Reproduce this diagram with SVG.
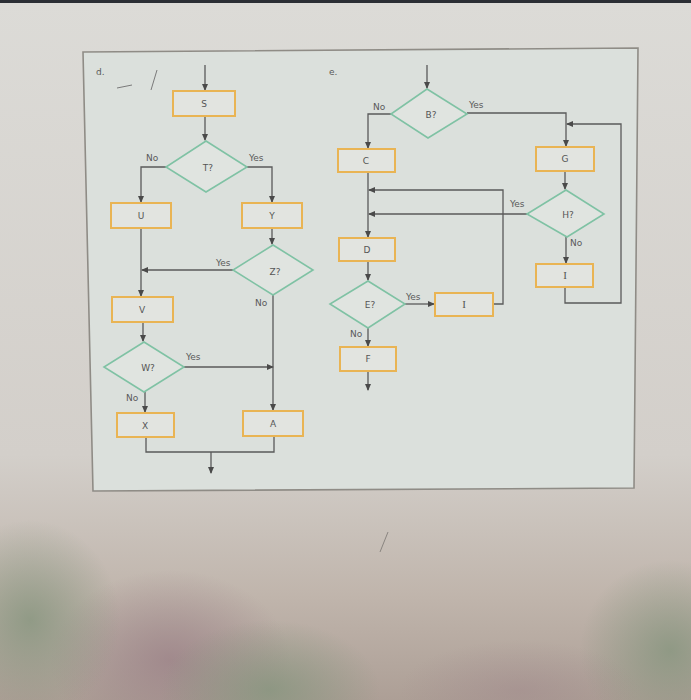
<svg xmlns="http://www.w3.org/2000/svg" width="691" height="700" viewBox="0 0 691 700">
<defs>
<linearGradient id="bg" x1="0" y1="0" x2="0" y2="1">
<stop offset="0" stop-color="#dcdbd7"/>
<stop offset="0.65" stop-color="#d3cfca"/>
<stop offset="0.85" stop-color="#c0b5ac"/>
<stop offset="1" stop-color="#ad9f96"/>
</linearGradient>
<radialGradient id="pink" cx="0.5" cy="0.5" r="0.5">
<stop offset="0" stop-color="#9c8288" stop-opacity="0.8"/>
<stop offset="1" stop-color="#9c8288" stop-opacity="0"/>
</radialGradient>
<radialGradient id="green" cx="0.5" cy="0.5" r="0.5">
<stop offset="0" stop-color="#86957e" stop-opacity="0.8"/>
<stop offset="1" stop-color="#86957e" stop-opacity="0"/>
</radialGradient>
<marker id="ah" markerWidth="7" markerHeight="6" refX="6" refY="3" orient="auto" markerUnits="userSpaceOnUse">
<path d="M0,0 L7,3 L0,6 z" fill="#4a4a4a"/>
</marker>
<style>
.box{fill:#e2e4e0;stroke:#e9b454;stroke-width:2}
.dia{fill:#e0e4e0;stroke:#7fc2a4;stroke-width:1.6}
.ln{fill:none;stroke:#5a5a5a;stroke-width:1.3}
.ar{marker-end:url(#ah)}
.t{font-family:"DejaVu Sans","Liberation Sans",sans-serif;font-size:9px;fill:#555;text-anchor:middle}
.ti{font-family:"Liberation Serif",serif;font-size:11px;fill:#555;text-anchor:middle}
.lbl{font-family:"DejaVu Sans","Liberation Sans",sans-serif;font-size:9px;fill:#5a5a5a}
</style>
</defs>
<rect width="691" height="700" fill="url(#bg)"/>
<ellipse cx="170" cy="660" rx="120" ry="90" fill="url(#pink)"/>
<ellipse cx="270" cy="690" rx="110" ry="70" fill="url(#green)"/>
<ellipse cx="30" cy="620" rx="90" ry="100" fill="url(#green)"/>
<ellipse cx="670" cy="650" rx="90" ry="90" fill="url(#green)"/>
<ellipse cx="520" cy="690" rx="120" ry="50" fill="url(#pink)" opacity="0.5"/>
<rect width="691" height="3" fill="#2b2e34"/>
<polygon points="83,52 638,48 634,488 93,491" fill="#dbe0dc" stroke="#8f8c86" stroke-width="1.6"/>
<path d="M117,88 L132,85 M157,70 L151,90" stroke="#7a7a7a" stroke-width="1" fill="none"/>
<path d="M388,532 L380,552" stroke="#8a8580" stroke-width="1" fill="none"/>
<text class="lbl" x="96" y="75">d.</text>
<text class="lbl" x="329" y="75">e.</text>

<g id="connectors">
<path class="ln ar" d="M205,65 V90"/>
<path class="ln ar" d="M205,116 V140"/>
<path class="ln ar" d="M166,167 H141 V202"/>
<path class="ln ar" d="M247,167 H272 V202"/>
<path class="ln ar" d="M272,228 V244"/>
<path class="ln ar" d="M233,270 H142"/>
<path class="ln ar" d="M141,228 V296"/>
<path class="ln ar" d="M143,322 V341"/>
<path class="ln ar" d="M184,367 H273"/>
<path class="ln ar" d="M273,295 V410"/>
<path class="ln ar" d="M145,392 V412"/>
<path class="ln" d="M146,437 V452 H274 V436"/>
<path class="ln ar" d="M211,452 V473"/>

<path class="ln ar" d="M427,65 V88"/>
<path class="ln ar" d="M391,114 H368 V148"/>
<path class="ln ar" d="M368,172 V237"/>
<path class="ln ar" d="M467,113 H566 V146"/>
<path class="ln ar" d="M565,287 V303 H621 V124 H567"/>
<path class="ln ar" d="M565,171 V189"/>
<path class="ln ar" d="M527,214 H369"/>
<path class="ln ar" d="M493,304 H503 V190 H369"/>
<path class="ln ar" d="M368,261 V280"/>
<path class="ln ar" d="M405,304 H434"/>
<path class="ln ar" d="M368,328 V346"/>
<path class="ln ar" d="M368,371 V390"/>
<path class="ln ar" d="M566,237 V263"/>

<text class="lbl" x="146" y="161">No</text>
<text class="lbl" x="249" y="161">Yes</text>
<text class="lbl" x="216" y="266">Yes</text>
<text class="lbl" x="255" y="306">No</text>
<text class="lbl" x="186" y="360">Yes</text>
<text class="lbl" x="126" y="401">No</text>
<text class="lbl" x="373" y="110">No</text>
<text class="lbl" x="469" y="108">Yes</text>
<text class="lbl" x="510" y="207">Yes</text>
<text class="lbl" x="570" y="246">No</text>
<text class="lbl" x="406" y="300">Yes</text>
<text class="lbl" x="350" y="337">No</text>
</g>

<g id="S"><rect class="box" x="173" y="91" width="62" height="25"/><text class="t" x="204" y="107">S</text></g>
<g id="T"><polygon class="dia" points="206,141 247,167 206,192 166,167"/><text class="t" x="208" y="171">T?</text></g>
<g id="U"><rect class="box" x="111" y="203" width="60" height="25"/><text class="t" x="141" y="219">U</text></g>
<g id="Y"><rect class="box" x="242" y="203" width="60" height="25"/><text class="t" x="272" y="219">Y</text></g>
<g id="Z"><polygon class="dia" points="273,245 313,270 273,295 233,270"/><text class="t" x="275" y="275">Z?</text></g>
<g id="V"><rect class="box" x="112" y="297" width="61" height="25"/><text class="t" x="142" y="313">V</text></g>
<g id="W"><polygon class="dia" points="144,342 184,367 144,392 104,367"/><text class="t" x="148" y="371">W?</text></g>
<g id="X"><rect class="box" x="117" y="413" width="57" height="24"/><text class="t" x="145" y="429">X</text></g>
<g id="A"><rect class="box" x="243" y="411" width="60" height="25"/><text class="t" x="273" y="427">A</text></g>

<g id="B"><polygon class="dia" points="427,89 467,114 428,138 391,114"/><text class="t" x="431" y="118">B?</text></g>
<g id="C"><rect class="box" x="338" y="149" width="57" height="23"/><text class="t" x="366" y="164">C</text></g>
<g id="G"><rect class="box" x="536" y="147" width="58" height="24"/><text class="t" x="565" y="162">G</text></g>
<g id="H"><polygon class="dia" points="566,190 604,214 567,237 527,214"/><text class="t" x="568" y="218">H?</text></g>
<g id="D"><rect class="box" x="339" y="238" width="56" height="23"/><text class="t" x="367" y="253">D</text></g>
<g id="E"><polygon class="dia" points="368,281 405,304 368,328 330,304"/><text class="t" x="370" y="308">E?</text></g>
<g id="I1"><rect class="box" x="435" y="293" width="58" height="23"/><text class="ti" x="464" y="308">I</text></g>
<g id="F"><rect class="box" x="340" y="347" width="56" height="24"/><text class="t" x="368" y="362">F</text></g>
<g id="I2"><rect class="box" x="536" y="264" width="57" height="23"/><text class="ti" x="565" y="279">I</text></g>
</svg>
